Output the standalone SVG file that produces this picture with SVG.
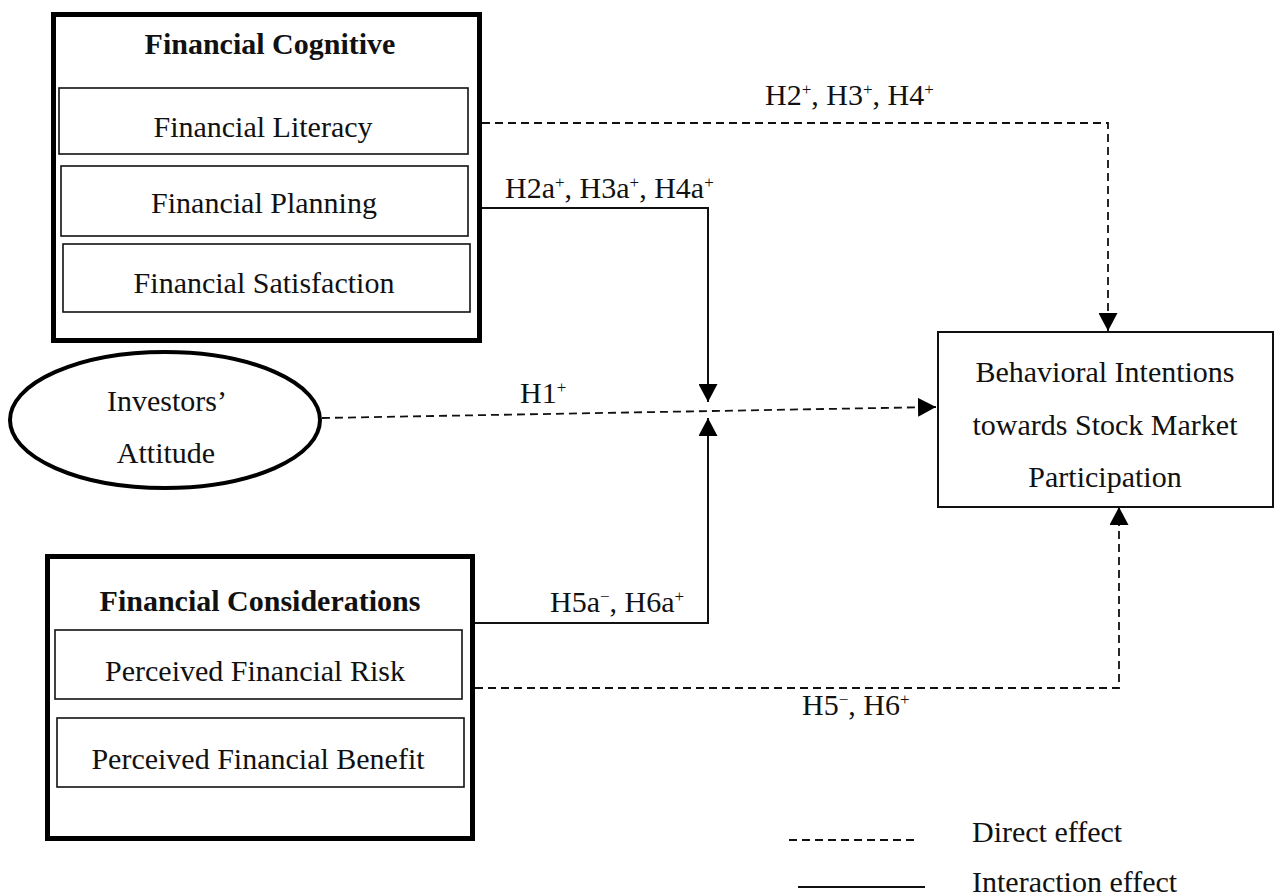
<svg xmlns="http://www.w3.org/2000/svg" width="1275" height="896" viewBox="0 0 1275 896">
<style>
.txt{font-family:"Liberation Serif","Times New Roman",serif;font-size:30px;fill:#111;}
.bold{font-weight:bold;}
.mid{text-anchor:middle;}
.outer{fill:none;stroke:#000;stroke-width:5;}
.inner{fill:#fff;stroke:#111;stroke-width:1.6;}
.dir{fill:none;stroke:#111;stroke-width:1.8;stroke-dasharray:8 5;}
.int{fill:none;stroke:#111;stroke-width:2;}
.sup{font-size:17px;}
</style>
<defs>
<marker id="arr" viewBox="0 0 18 19" refX="18" refY="9.5" markerWidth="18" markerHeight="19" markerUnits="userSpaceOnUse" orient="auto">
<path d="M0,0 L18,9.5 L0,19 z" fill="#000"/>
</marker>
</defs>
<rect width="1275" height="896" fill="#fff"/>

<g id="financial-cognitive">
<rect class="outer" x="53.5" y="14.5" width="426" height="326"/>
<text class="txt bold mid" x="270" y="54">Financial Cognitive</text>
<g id="financial-literacy">
<rect class="inner" x="59" y="88" width="409" height="66"/>
<text class="txt mid" x="263" y="137">Financial Literacy</text>
</g>
<g id="financial-planning">
<rect class="inner" x="61" y="166" width="407" height="70"/>
<text class="txt mid" x="264" y="213">Financial Planning</text>
</g>
<g id="financial-satisfaction">
<rect class="inner" x="63" y="244" width="407" height="68"/>
<text class="txt mid" x="264" y="293">Financial Satisfaction</text>
</g>
</g>

<g id="investors-attitude">
<ellipse cx="165" cy="420" rx="155" ry="68" fill="#fff" stroke="#000" stroke-width="4"/>
<text class="txt mid" x="167" y="411">Investors’</text>
<text class="txt mid" x="166" y="463">Attitude</text>
</g>

<g id="financial-considerations">
<rect class="outer" x="47.5" y="556.5" width="425" height="282"/>
<text class="txt bold mid" x="260" y="611">Financial Considerations</text>
<g id="perceived-risk">
<rect class="inner" x="55" y="630" width="407" height="69"/>
<text class="txt mid" x="255" y="681">Perceived Financial Risk</text>
</g>
<g id="perceived-benefit">
<rect class="inner" x="57" y="718" width="407" height="69"/>
<text class="txt mid" x="258" y="769">Perceived Financial Benefit</text>
</g>
</g>

<g id="behavioral-intentions">
<rect x="938" y="332" width="335" height="175" fill="#fff" stroke="#111" stroke-width="2"/>
<text class="txt mid" x="1105" y="382">Behavioral Intentions</text>
<text class="txt mid" x="1105" y="435">towards Stock Market</text>
<text class="txt mid" x="1105" y="487">Participation</text>
</g>

<g id="connectors">
<path class="dir" d="M482,123 H1108 V331" marker-end="url(#arr)"/>
<path class="int" d="M482,208 H708 V402" marker-end="url(#arr)"/>
<path class="dir" d="M322,418 L936,407" marker-end="url(#arr)"/>
<path class="int" d="M475,623 H708 V418" marker-end="url(#arr)"/>
<path class="dir" d="M475,688 H1119 V507" marker-end="url(#arr)"/>
</g>

<g id="labels">
<text class="txt" x="765" y="105">H2<tspan class="sup" dy="-10">+</tspan><tspan dy="10">, H3</tspan><tspan class="sup" dy="-10">+</tspan><tspan dy="10">, H4</tspan><tspan class="sup" dy="-10">+</tspan></text>
<text class="txt" x="505" y="198">H2a<tspan class="sup" dy="-10">+</tspan><tspan dy="10">, H3a</tspan><tspan class="sup" dy="-10">+</tspan><tspan dy="10">, H4a</tspan><tspan class="sup" dy="-10">+</tspan></text>
<text class="txt" x="520" y="403">H1<tspan class="sup" dy="-10">+</tspan></text>
<text class="txt" x="550" y="612">H5a<tspan class="sup" dy="-10">−</tspan><tspan dy="10">, H6a</tspan><tspan class="sup" dy="-10">+</tspan></text>
<text class="txt" x="802" y="715">H5<tspan class="sup" dy="-10">−</tspan><tspan dy="10">, H6</tspan><tspan class="sup" dy="-10">+</tspan></text>
</g>

<g id="legend">
<line class="dir" x1="789" y1="840" x2="917" y2="840"/>
<line class="int" x1="798" y1="887" x2="925" y2="887"/>
<text class="txt" x="972" y="842">Direct effect</text>
<text class="txt" x="972" y="892">Interaction effect</text>
</g>
</svg>
